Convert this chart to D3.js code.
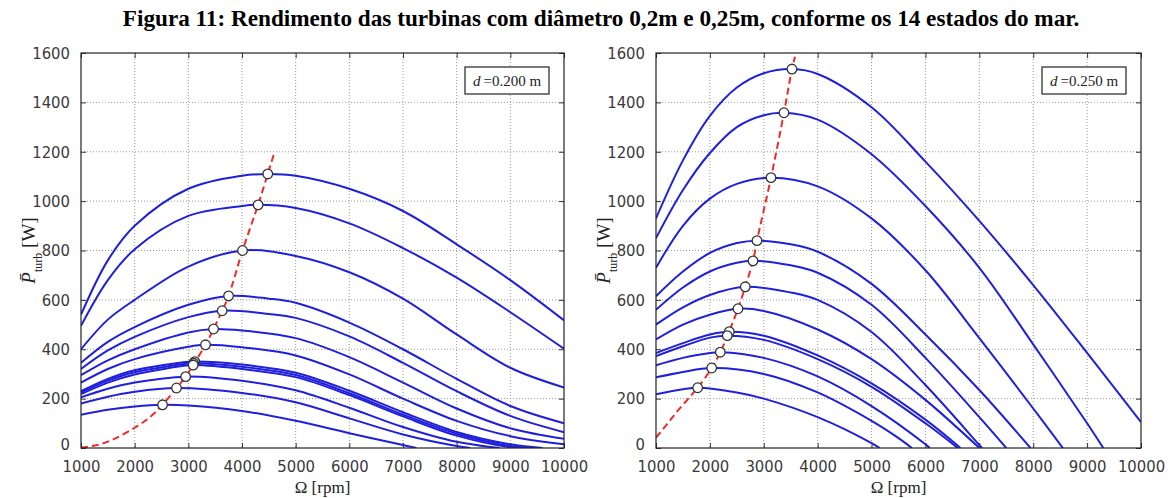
<!DOCTYPE html>
<html>
<head>
<meta charset="utf-8">
<script src="https://cdn.jsdelivr.net/npm/d3@7"></script>
<style>
  body { margin: 0; background: #fff; }
  svg { display: block; }
  .tick-label { font-family: "Liberation Sans Narrow", "DejaVu Sans Condensed", "Liberation Sans", sans-serif; font-size: 16.5px; fill: #3a3a3a; }
  .serif { font-family: "Liberation Serif", "DejaVu Serif", serif; fill: #222; }
</style>
</head>
<body>
<svg id="chart"></svg>
<script>
// ---- shared axis ticks ----
const omegaTicks = [1000, 2000, 3000, 4000, 5000, 6000, 7000, 8000, 9000, 10000];
const powerTicks = [0, 200, 400, 600, 800, 1000, 1200, 1400, 1600];

// ---- d = 0.200 m : one curve per sea state, [rpm, W] ----
const curvesD200 = [
  [[1000,540],[1500,760],[2000,900],[3000,1050],[4000,1103],[4480,1110],[5000,1103],[6000,1050],[7000,960],[8000,825],[9000,680],[10000,517]],
  [[1000,495],[1500,680],[2000,805],[3000,940],[4000,980],[4300,985],[5000,972],[6000,910],[7000,810],[8000,690],[9000,550],[10000,402]],
  [[1000,400],[1500,520],[2000,600],[3000,735],[4010,800],[5000,778],[6000,712],[7000,605],[8000,460],[9000,325],[10000,245]],
  [[1000,345],[1500,430],[2000,490],[3000,580],[3750,616],[4500,605],[5000,588],[6000,508],[7000,400],[8000,280],[9000,170],[10000,100]],
  [[1000,320],[1500,395],[2000,450],[3000,530],[3630,556],[4500,543],[5000,527],[6000,452],[7000,345],[8000,230],[9000,130],[10000,64]],
  [[1000,295],[1500,355],[2000,400],[3000,468],[3470,482],[4000,476],[5000,445],[6000,368],[7000,265],[8000,160],[9000,80],[10000,37]],
  [[1000,265],[1500,320],[2000,360],[3000,410],[3320,418],[4000,408],[5000,375],[6000,298],[7000,200],[8000,110],[9000,48],[10000,15]],
  [[1000,230],[1500,280],[2000,315],[3000,349],[3120,350],[4000,338],[5000,305],[6000,232],[7000,145],[8000,65],[9000,15],[9600,0]],
  [[1000,225],[1500,273],[2000,307],[3000,342],[3100,343],[4000,329],[5000,296],[6000,222],[7000,135],[8000,58],[9000,8],[9400,0]],
  [[1000,218],[1500,265],[2000,298],[3000,335],[3090,336],[4000,320],[5000,287],[6000,214],[7000,128],[8000,50],[9000,3],[9250,0]],
  [[1000,205],[1500,240],[2000,265],[2950,289],[4000,272],[5000,234],[6000,163],[7000,85],[8000,25],[8800,0]],
  [[1000,180],[1500,208],[2000,228],[2780,243],[4000,223],[5000,185],[6000,120],[7000,55],[8000,8],[8250,0]],
  [[1000,135],[1500,155],[2000,168],[2520,175],[3000,172],[4000,150],[5000,110],[6000,60],[7000,12],[7250,0]]
];
const peaksD200 = [[4480,1110],[4300,985],[4010,800],[3750,616],[3630,556],[3470,482],[3320,418],[3120,350],[3100,343],[3090,336],[2950,289],[2780,243],[2520,175]];
const locusD200 = [[1000,2],[1300,12],[1600,35],[2000,82],[2300,128],[2520,175],[2780,243],[2950,289],[3100,340],[3320,418],[3470,482],[3630,556],[3750,616],[4010,800],[4300,985],[4480,1110],[4600,1195]];

// ---- d = 0.250 m ----
const curvesD250 = [
  [[1000,930],[1500,1165],[2000,1345],[2500,1460],[3000,1518],[3523,1535],[4000,1515],[5000,1380],[6000,1160],[7000,920],[8000,660],[9000,385],[10000,105]],
  [[1000,850],[1500,1045],[2000,1195],[2500,1300],[3000,1348],[3375,1358],[4000,1330],[5000,1190],[6000,980],[7000,730],[8000,420],[9000,100],[9300,0]],
  [[1000,730],[1500,900],[2000,1010],[2500,1070],[3134,1095],[4000,1060],[5000,930],[6000,720],[7000,445],[8000,160],[8550,0]],
  [[1000,615],[1500,715],[2000,790],[2500,830],[2874,840],[3500,825],[4000,795],[5000,665],[6000,460],[7000,235],[7950,0]],
  [[1000,560],[1500,650],[2000,715],[2500,750],[2800,758],[3500,740],[4000,710],[5000,580],[6000,365],[7000,125],[7500,0]],
  [[1000,500],[1500,570],[2000,620],[2657,653],[3500,630],[4000,600],[5000,470],[6000,255],[7000,12],[7050,0]],
  [[1000,440],[1500,500],[2000,540],[2521,564],[3000,555],[4000,480],[5000,360],[6000,195],[7000,0]],
  [[1000,385],[1500,425],[2000,460],[2360,471],[3000,455],[4000,375],[5000,262],[6000,115],[6650,0]],
  [[1000,372],[1500,412],[2000,447],[2323,455],[3000,438],[4000,360],[5000,248],[6000,100],[6600,0]],
  [[1000,335],[1500,365],[2000,385],[2193,388],[3000,365],[4000,290],[5000,170],[6000,15],[6080,0]],
  [[1000,286],[1500,308],[2033,324],[3000,300],[4000,225],[5000,110],[5434,50],[5750,0]],
  [[1000,218],[1500,238],[1773,244],[2500,225],[3000,200],[4000,125],[5000,20],[5150,0]]
];
const peaksD250 = [[3523,1535],[3375,1358],[3134,1095],[2874,840],[2800,758],[2657,653],[2521,564],[2360,471],[2323,455],[2193,388],[2033,324],[1773,244]];
const locusD250 = [[1000,42],[1200,95],[1400,150],[1600,200],[1773,244],[2033,324],[2193,388],[2340,463],[2521,564],[2657,653],[2800,758],[2874,840],[3134,1095],[3375,1358],[3523,1535],[3580,1585]];

const svg = d3.select('#chart')
    .attr('width', 1175)
    .attr('height', 498);

// Title
svg.append('text')
    .attr('class', 'serif')
    .attr('x', 601)
    .attr('y', 26)
    .attr('text-anchor', 'middle')
    .style('font-size', '23.2px')
    .style('font-weight', 'bold')
    .style('fill', '#000')
    .text('Figura 11: Rendimento das turbinas com diâmetro 0,2m e 0,25m, conforme os 14 estados do mar.');

function drawPanel(cfg, curves, peaks, locus, dLabel) {
  const x = d3.scaleLinear().domain([1000, 10000]).range([cfg.left, cfg.right]);
  const y = d3.scaleLinear().domain([0, 1600]).range([cfg.bottom, cfg.top]);
  const w = cfg.right - cfg.left, h = cfg.bottom - cfg.top;

  const g = svg.append('g');

  g.append('defs').append('clipPath')
      .attr('id', cfg.id)
    .append('rect')
      .attr('x', cfg.left).attr('y', cfg.top)
      .attr('width', w).attr('height', h);

  // dotted grid
  g.append('g').selectAll('line').data(omegaTicks.slice(1, -1)).join('line')
      .attr('x1', d => x(d)).attr('x2', d => x(d))
      .attr('y1', cfg.top).attr('y2', cfg.bottom)
      .attr('stroke', '#999').attr('stroke-dasharray', '1,2');
  g.append('g').selectAll('line').data(powerTicks.slice(1, -1)).join('line')
      .attr('x1', cfg.left).attr('x2', cfg.right)
      .attr('y1', d => y(d)).attr('y2', d => y(d))
      .attr('stroke', '#999').attr('stroke-dasharray', '1,2');

  // axes, ticks pointing inward (matlab style)
  const fmt = d3.format('d');
  const xAxisG = g.append('g')
      .attr('transform', `translate(0,${cfg.bottom})`)
      .call(d3.axisBottom(x).tickValues(omegaTicks).tickFormat(fmt).tickSizeInner(-5).tickSizeOuter(0).tickPadding(12));
  const yAxisG = g.append('g')
      .attr('transform', `translate(${cfg.left},0)`)
      .call(d3.axisLeft(y).tickValues(powerTicks).tickFormat(fmt).tickSizeInner(-5).tickSizeOuter(0).tickPadding(11));
  g.append('g')
      .attr('transform', `translate(0,${cfg.top})`)
      .call(d3.axisTop(x).tickValues(omegaTicks).tickSizeInner(-5).tickSizeOuter(0).tickFormat(''));
  g.append('g')
      .attr('transform', `translate(${cfg.right},0)`)
      .call(d3.axisRight(y).tickValues(powerTicks).tickSizeInner(-5).tickSizeOuter(0).tickFormat(''));
  g.selectAll('.domain').remove();
  g.selectAll('.tick line').attr('stroke', '#333');
  [xAxisG, yAxisG].forEach(a => a.selectAll('.tick text').attr('class', 'tick-label').attr('font-size', null).attr('font-family', null));
  // keep the lowest y label clear of the first x label
  yAxisG.selectAll('.tick text').filter(d => d === 0).attr('dy', '0.1em');

  // blue curves
  const line = d3.line()
      .x(d => x(d[0]))
      .y(d => y(d[1]))
      .curve(d3.curveCatmullRom.alpha(0.5));

  const plot = g.append('g').attr('clip-path', `url(#${cfg.id})`);
  plot.selectAll('.curve').data(curves).join('path')
      .attr('class', 'curve')
      .attr('d', line)
      .attr('fill', 'none')
      .attr('stroke', '#2020dc')
      .attr('stroke-width', 2);

  // locus of maximum power
  plot.append('path')
      .datum(locus)
      .attr('d', line)
      .attr('fill', 'none')
      .attr('stroke', '#ee2a2a')
      .attr('stroke-width', 2)
      .attr('stroke-dasharray', '7,4');

  g.selectAll('.peak').data(peaks).join('circle')
      .attr('class', 'peak')
      .attr('cx', d => x(d[0]))
      .attr('cy', d => y(d[1]))
      .attr('r', 4.8)
      .attr('fill', '#fff')
      .attr('stroke', '#333')
      .attr('stroke-width', 1.3);

  // frame
  g.append('rect')
      .attr('x', cfg.left).attr('y', cfg.top)
      .attr('width', w).attr('height', h)
      .attr('fill', 'none')
      .attr('stroke', '#222')
      .attr('stroke-width', 1.2);

  // label box
  const bx = cfg.right - 99, by = cfg.top + 14;
  g.append('rect')
      .attr('x', bx).attr('y', by)
      .attr('width', 84).attr('height', 27)
      .attr('fill', '#fff')
      .attr('stroke', '#333')
      .attr('stroke-width', 1.3);
  const lt = g.append('text')
      .attr('class', 'serif')
      .attr('x', bx + 42).attr('y', by + 19)
      .attr('text-anchor', 'middle')
      .style('font-size', '15px');
  lt.append('tspan').style('font-style', 'italic').text('d');
  lt.append('tspan').text('\u2009=' + dLabel + ' m');

  // axis titles
  g.append('text')
      .attr('class', 'serif')
      .attr('x', (cfg.left + cfg.right) / 2)
      .attr('y', 493)
      .attr('text-anchor', 'middle')
      .style('font-size', '17px')
      .text('Ω [rpm]');

  const yl = g.append('text')
      .attr('class', 'serif')
      .attr('transform', `translate(${cfg.left - 46},${(cfg.top + cfg.bottom) / 2}) rotate(-90)`)
      .attr('text-anchor', 'middle')
      .style('font-size', '19px');
  yl.append('tspan').style('font-style', 'italic').text('P\u0304');
  yl.append('tspan').attr('baseline-shift', 'sub').style('font-size', '12px').text('turb');
  yl.append('tspan').text(' [W]');
}

drawPanel({id: 'clipA', left: 81, right: 564, top: 53, bottom: 448}, curvesD200, peaksD200, locusD200, '0.200');
drawPanel({id: 'clipB', left: 656, right: 1141, top: 53, bottom: 448}, curvesD250, peaksD250, locusD250, '0.250');
</script>
</body>
</html>
